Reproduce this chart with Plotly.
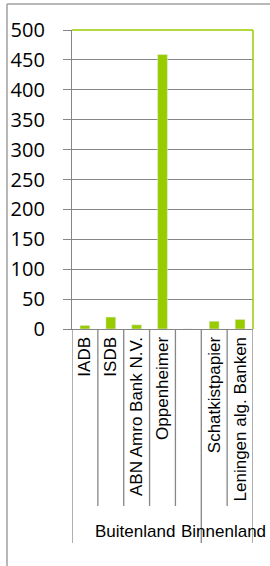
import plotly.graph_objects as go

categories = ["IADB", "ISDB", "ABN Amro Bank N.V.", "Oppenheimer", "", "Schatkistpapier", "Leningen alg. Banken"]
values = [6, 20, 7, 459, 0, 13, 16]
groups = ["Buitenland", "Binnenland"]
group_sizes = [5, 2]
y_ticks = list(range(0, 501, 50))

GREEN = "#99CC00"
GRAY = "#868686"
FONT = "Open Sans"
CAT_FONT = "Liberation Sans"

idx = list(range(len(categories)))
fig = go.Figure(go.Bar(x=idx, y=values, marker_color=GREEN, width=0.38))

W, H = 270, 566
ml, mr, mt, mb = 72, 17, 30, 237
ph = H - mt - mb
pw = W - ml - mr

def py(px):  # pixel y -> paper y
    return (H - mb - px) / ph

def pxp(px):
    return (px - ml) / pw

shapes = []
n = len(categories)
group_bounds = [-0.5]
acc = -0.5
for s in group_sizes:
    acc += s
    group_bounds.append(acc)
for k in range(n + 1):
    xb = k - 0.5
    long = any(abs(xb - g) < 1e-9 for g in group_bounds)
    shapes.append(dict(type="line", xref="x", yref="paper", x0=xb, x1=xb,
                       y0=0, y1=py(543) if long else py(506),
                       line=dict(color=GRAY, width=1.3)))
shapes.append(dict(type="line", xref="paper", yref="paper", x0=0, x1=1, y0=1, y1=1,
                   line=dict(color=GREEN, width=1.5)))
shapes.append(dict(type="line", xref="paper", yref="paper", x0=1, x1=1, y0=0, y1=1,
                   line=dict(color=GREEN, width=1.5)))
# outer chart frame (only top and left edges are inside the picture)
shapes.append(dict(type="line", xref="paper", yref="paper", x0=pxp(7), x1=pxp(290),
                   y0=py(4), y1=py(4), line=dict(color="#A0A0A0", width=1.5)))
shapes.append(dict(type="line", xref="paper", yref="paper", x0=pxp(7), x1=pxp(7),
                   y0=py(4), y1=py(590), line=dict(color="#A0A0A0", width=1.5)))

annotations = []
start = -0.5
for i, (g, s) in enumerate(zip(groups, group_sizes)):
    center = start + s / 2
    annotations.append(dict(text=g, x=center, xref="x", y=py(531), yref="paper",
                            showarrow=False, font=dict(family=CAT_FONT, size=17, color="black"),
                            xanchor="center", yanchor="middle",
                            xshift=-2 if i == 0 else -4))
    start += s

fig.update_layout(
    width=W, height=H,
    margin=dict(l=ml, r=mr, t=mt, b=mb),
    paper_bgcolor="white", plot_bgcolor="white",
    showlegend=False,
    shapes=shapes, annotations=annotations,
    xaxis=dict(range=[-0.5, n - 0.5], tickmode="array", tickvals=idx, ticktext=categories,
               tickangle=-90, tickfont=dict(family=CAT_FONT, size=17, color="black"),
               showgrid=False, zeroline=False, showline=True, linecolor=GRAY, linewidth=1.3,
               ticks=""),
    yaxis=dict(range=[0, 500], tickvals=y_ticks, showgrid=True, gridcolor=GRAY, gridwidth=1.3,
               ticks="outside", ticklen=8, tickcolor=GRAY, tickwidth=1.3,
               showline=True, linecolor=GRAY, linewidth=1.3, zeroline=False,
               tickfont=dict(family=FONT, size=20, color="black"), ticklabelstandoff=14),
)

fig.write_html("out.html", config={"displayModeBar": False},
               post_script="document.body.style.margin='0';document.body.style.overflow='hidden';")
